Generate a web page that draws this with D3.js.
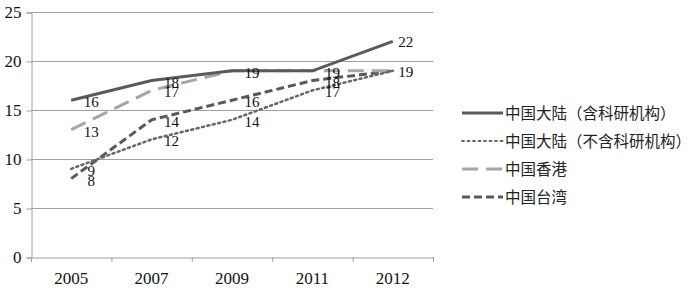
<!DOCTYPE html>
<html>
<head>
<meta charset="utf-8">
<script src="https://cdnjs.cloudflare.com/ajax/libs/d3/7.8.5/d3.min.js"></script>
<style>
  html, body { margin: 0; padding: 0; background: #fff; }
  svg { display: block; }
</style>
</head>
<body>
<div id="chart"></div>
<script>
// données du graphique
const years      = ['2005', '2007', '2009', '2011', '2012'];
const mainlandIn = [16, 18, 19, 19, 22];
const mainlandEx = [9, 12, 14, 17, 19];
const hongKong   = [13, 17, 19, 19, 19];
const taiwan     = [8, 14, 16, 18, 19];
const yTicks     = [0, 5, 10, 15, 20, 25];
const seriesNames = ['中国大陆（含科研机构）', '中国大陆（不含科研机构）', '中国香港', '中国台湾'];

const series = [
  { name: seriesNames[0], values: mainlandIn, color: '#5a5a5a', width: 3,   dash: null },
  { name: seriesNames[1], values: mainlandEx, color: '#666666', width: 2.5, dash: '2,3.5', cap: 'round' },
  { name: seriesNames[2], values: hongKong,   color: '#a6a6a6', width: 3,   dash: '16,8' },
  { name: seriesNames[3], values: taiwan,     color: '#595959', width: 3,   dash: '8,4' }
];

const W = 700, H = 292;
const M = { left: 31, right: 267, top: 12, bottom: 35 };

const svg = d3.select('#chart').append('svg')
  .attr('width', W).attr('height', H);

const x = d3.scaleBand().domain(years).range([M.left, W - M.right]);
const y = d3.scaleLinear().domain([0, 25]).range([H - M.bottom, M.top]);
const cx = d => x(d) + x.bandwidth() / 2;

// grille
svg.append('g').selectAll('line')
  .data(yTicks.filter(t => t > 0))
  .enter().append('line')
  .attr('x1', M.left).attr('x2', W - M.right)
  .attr('y1', d => y(d) + 0.5).attr('y2', d => y(d) + 0.5)
  .attr('stroke', '#a0a0a0').attr('stroke-width', 1);

// axe Y
const yAxis = svg.append('g')
  .attr('transform', `translate(${M.left + 0.5},0.5)`)
  .call(d3.axisLeft(y).tickValues(yTicks).tickSize(5).tickPadding(5));
yAxis.select('.domain').attr('stroke', '#a0a0a0');
yAxis.selectAll('.tick line').attr('stroke', '#a0a0a0');
yAxis.selectAll('text')
  .attr('font-family', '"Liberation Serif", serif')
  .attr('font-size', 17).attr('fill', '#111');

// axe X
const xAxis = svg.append('g')
  .attr('transform', `translate(0,${H - M.bottom + 0.5})`)
  .call(d3.axisBottom(x).tickSize(0).tickPadding(14));
xAxis.select('.domain').attr('stroke', '#a0a0a0');
xAxis.selectAll('text')
  .attr('font-family', '"Liberation Serif", serif')
  .attr('font-size', 17).attr('fill', '#111');
// petites graduations entre catégories
svg.append('g').selectAll('line')
  .data(years.concat(['end']))
  .enter().append('line')
  .attr('x1', (d, i) => M.left + i * x.bandwidth() + 0.5)
  .attr('x2', (d, i) => M.left + i * x.bandwidth() + 0.5)
  .attr('y1', H - M.bottom).attr('y2', H - M.bottom + 5)
  .attr('stroke', '#a0a0a0');

// courbes
const line = d3.line()
  .x((d, i) => cx(years[i]))
  .y(d => y(d));

svg.append('g').selectAll('path')
  .data(series.slice().reverse())
  .enter().append('path')
  .attr('d', d => line(d.values))
  .attr('fill', 'none')
  .attr('stroke', d => d.color)
  .attr('stroke-width', d => d.width)
  .attr('stroke-dasharray', d => d.dash)
  .attr('stroke-linecap', d => d.cap || 'butt');

// étiquettes de valeurs (une seule quand deux séries coïncident)
const labels = svg.append('g')
  .attr('font-family', '"Liberation Serif", serif')
  .attr('font-size', 15).attr('fill', '#111')
  .attr('text-anchor', 'middle');
const seen = new Set();
series.forEach(s => {
  s.values.forEach((v, i) => {
    const key = years[i] + ':' + v;
    if (seen.has(key)) return;
    seen.add(key);
    const last = i === years.length - 1;
    labels.append('text')
      .attr('x', cx(years[i]) + (last ? 13 : 20))
      .attr('y', y(v) + (last ? 6 : 7))
      .text(v);
  });
});

// légende
const leg = svg.append('g').attr('transform', 'translate(462,113)');
series.forEach((s, i) => {
  const g = leg.append('g').attr('transform', `translate(0,${i * 28})`);
  g.append('line')
    .attr('x1', 0).attr('x2', 41).attr('y1', 0).attr('y2', 0)
    .attr('stroke', s.color).attr('stroke-width', i === 1 ? 1.8 : s.width)
    .attr('stroke-dasharray', s.dash)
    .attr('stroke-linecap', s.cap || 'butt');
  g.append('text')
    .attr('x', 43).attr('y', 5.5)
    .attr('font-family', '"Noto Sans CJK SC", sans-serif')
    .attr('font-size', 15.5).attr('fill', '#222')
    .text(s.name);
});
</script>
</body>
</html>
